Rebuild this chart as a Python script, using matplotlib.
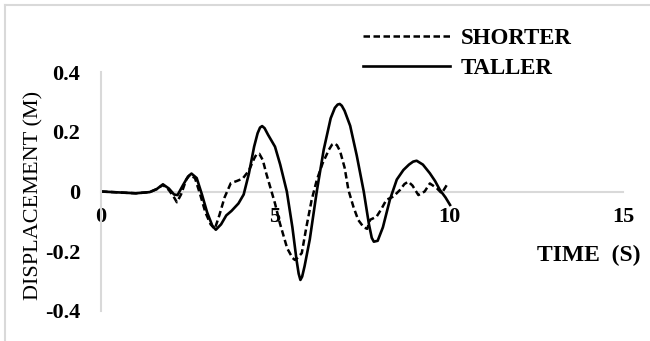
import numpy as np
from matplotlib import pyplot as plt
from matplotlib.lines import Line2D

plt.rcParams['font.family'] = ['Liberation Serif', 'DejaVu Serif']

# displacement time histories (s, m)
t_taller = [0, 0.5, 1.0, 1.4, 1.6, 1.78, 1.95, 2.1, 2.2, 2.35, 2.5, 2.6, 2.75, 2.9, 3.05,
            3.2, 3.3, 3.45, 3.6, 3.75, 3.95, 4.1, 4.25, 4.4, 4.5, 4.57, 4.63, 4.7, 4.8,
            4.9, 5.0, 5.15, 5.34, 5.5, 5.62, 5.68, 5.73, 5.78, 5.85, 6.0, 6.2, 6.4, 6.6,
            6.72, 6.8, 6.86, 6.92, 7.0, 7.16, 7.35, 7.55, 7.7, 7.78, 7.84, 7.95, 8.1, 8.3,
            8.5, 8.69, 8.85, 8.97, 9.07, 9.25, 9.45, 9.6, 9.74, 9.9, 10.03]
d_taller = [0, -0.003, -0.006, -0.002, 0.008, 0.024, 0.01, -0.01, -0.012, 0.02, 0.05, 0.06,
            0.045, -0.01, -0.07, -0.115, -0.128, -0.11, -0.08, -0.065, -0.04, -0.01, 0.06,
            0.15, 0.195, 0.214, 0.219, 0.212, 0.19, 0.17, 0.15, 0.09, 0.0, -0.12, -0.23,
            -0.275, -0.296, -0.285, -0.25, -0.16, 0.0, 0.14, 0.245, 0.28, 0.291, 0.293,
            0.287, 0.27, 0.22, 0.12, 0.0, -0.11, -0.155, -0.168, -0.165, -0.12, -0.028,
            0.04, 0.072, 0.09, 0.1, 0.103, 0.09, 0.061, 0.035, 0.005, -0.02, -0.045]

t_shorter = [0, 0.5, 1.0, 1.4, 1.6, 1.78, 1.95, 2.1, 2.18, 2.3, 2.45, 2.55, 2.7, 2.85, 3.0,
             3.15, 3.27, 3.4, 3.55, 3.73, 3.9, 4.07, 4.25, 4.4, 4.47, 4.55, 4.65, 4.75,
             4.86, 5.0, 5.14, 5.35, 5.5, 5.57, 5.65, 5.77, 5.9, 6.05, 6.2, 6.37, 6.55, 6.64,
             6.7, 6.78, 6.87, 7.0, 7.11, 7.25, 7.39, 7.55, 7.65, 7.73, 7.92, 8.05, 8.2, 8.4,
             8.59, 8.72, 8.83, 8.95, 9.12, 9.3, 9.45, 9.65, 9.79, 9.98]
d_shorter = [0, -0.003, -0.006, -0.002, 0.008, 0.022, 0.005, -0.02, -0.036, -0.01, 0.04,
             0.055, 0.045, -0.01, -0.07, -0.11, -0.125, -0.08, -0.02, 0.028, 0.035, 0.043,
             0.07, 0.11, 0.125, 0.126, 0.105, 0.06, 0.016, -0.04, -0.106, -0.19, -0.222,
             -0.229, -0.222, -0.206, -0.12, -0.03, 0.038, 0.095, 0.14, 0.157, 0.161, 0.155,
             0.135, 0.08, 0.005, -0.05, -0.095, -0.12, -0.125, -0.095, -0.084, -0.06, -0.028,
             -0.017, 0.005, 0.025, 0.033, 0.02, -0.012, 0.0, 0.027, 0.011, -0.006, 0.03]

x_ticks = [0, 5, 10, 15]
y_ticks = [-0.4, -0.2, 0, 0.2, 0.4]
y_ticklabels = ['-0.4', '-0.2', '0', '0.2', '0.4']

grey = '#d9d9d9'

fig = plt.figure(figsize=(6.5, 3.41), dpi=100)
ax = fig.add_axes([101/650, 1 - 311/341, 522/650, 239/341])

ax.plot(t_shorter, d_shorter, color='black', lw=1.8, ls=(0, (2.6, 1.4)), label='SHORTER')
ax.plot(t_taller, d_taller, color='black', lw=1.9, solid_joinstyle='round', label='TALLER')

ax.set_xlim(0, 15)
ax.set_ylim(-0.4, 0.4)
ax.set_xticks(x_ticks)
ax.set_xticklabels([str(v) for v in x_ticks])
ax.set_yticks(y_ticks)
ax.set_yticklabels(y_ticklabels)

for s in ['top', 'right']:
    ax.spines[s].set_visible(False)
ax.spines['bottom'].set_position(('data', 0))
ax.spines['bottom'].set_color(grey)
ax.spines['left'].set_color(grey)
ax.spines['bottom'].set_linewidth(1.5)
ax.spines['left'].set_linewidth(1.5)
ax.spines['bottom'].set_zorder(0)

ax.tick_params(axis='x', length=0, pad=11, labelsize=16)
ax.tick_params(axis='y', length=0, pad=15, labelsize=16)
for lab in ax.get_xticklabels() + ax.get_yticklabels():
    lab.set_fontweight('bold')

ax.set_ylabel('DISPLACEMENT (M)', fontsize=16)
ax.yaxis.set_label_coords(-0.11, 0.485)
ax.set_xlabel('TIME  (S)', fontsize=17, fontweight='bold')
ax.xaxis.set_label_coords(0.935, 0.275)

ax.legend(loc='upper left', bbox_to_anchor=(363/650, 1 - 28/341),
          bbox_transform=fig.transFigure, frameon=False, borderpad=0, borderaxespad=0,
          handlelength=3.8, handletextpad=0.45, labelspacing=0.38,
          prop={'weight': 'bold', 'size': 16.5})

# chart area border (top and left edges)
fig.add_artist(Line2D([5/650, 5/650], [0, 1 - 5/341], color=grey, lw=1.5))
fig.add_artist(Line2D([5/650, 1], [1 - 5/341, 1 - 5/341], color=grey, lw=1.5))

fig.savefig('out.png', dpi=100)
